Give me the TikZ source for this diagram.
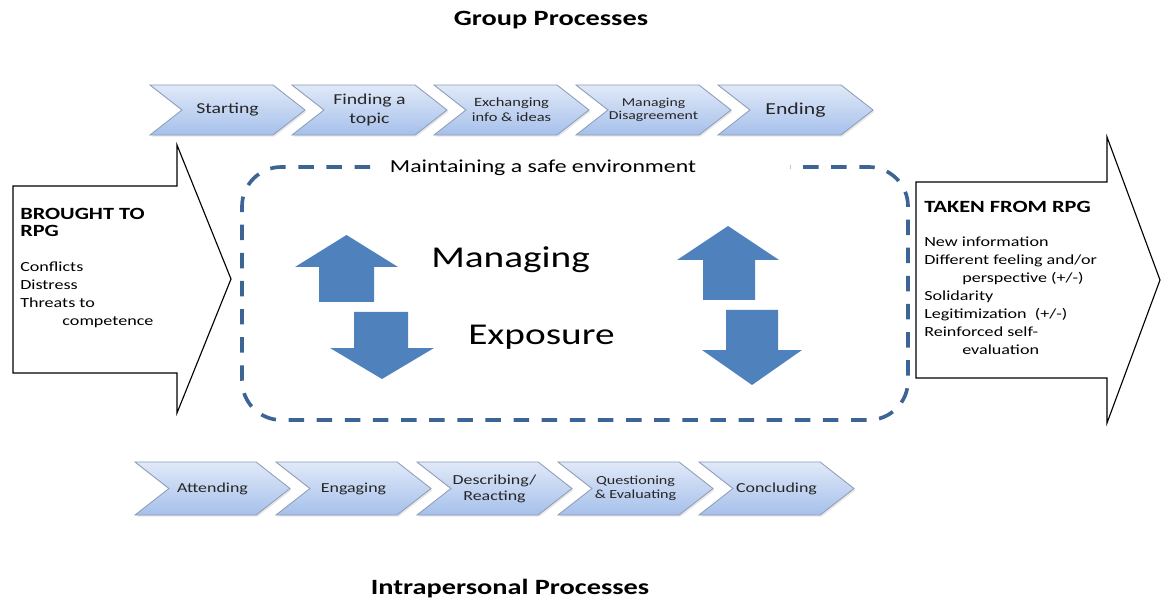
\documentclass[tikz,border=0pt]{standalone}
\usepackage{fontspec}
\setmainfont{Carlito}[FakeStretch=1.3]
\usepackage{xcolor}
\usepackage{tikz}
\usetikzlibrary{shapes.symbols, shadows, positioning}

\definecolor{chevtop}{HTML}{E0E9F8}
\definecolor{chevbot}{HTML}{A6C0EB}
\definecolor{chevline}{HTML}{8C9DB8}
\definecolor{arrowblue}{HTML}{4F81BD}
\definecolor{boxblue}{HTML}{3C6494}

\newcommand{\fsz}[2]{\fontsize{#1}{#2}\selectfont}

\begin{document}
\begin{tikzpicture}[
            x=0.025cm, y=-0.025cm,
            chev/.style={signal, signal from=west, signal to=east, signal pointer angle=76, minimum width=3.875cm, minimum height=1.25cm, inner sep=0pt, draw=chevline, line width=0.6pt, top color=chevtop, bottom color=chevbot, align=center, text=black!85, drop shadow={shadow xshift=1pt, shadow yshift=-1.2pt, opacity=0.2}},
            lowchev/.style={chev, minimum height=1.325cm},
            bigarrow/.style={draw=black, line width=0.8pt, fill=white},
            updown/.style={fill=arrowblue},
            safebox/.style={draw=boxblue, line width=2.6pt, dash pattern=on 11pt off 9pt, rounded corners=28pt},
            title/.style={font=\bfseries\fsz{15.5}{18}, inner sep=0pt},
            head/.style={font=\bfseries\fsz{12.2}{12}, align=left, anchor=north west, inner sep=0pt},
            items/.style={font=\fsz{9.9}{12.8}, align=left, anchor=north west, inner sep=0pt},
            big/.style={font=\fsz{21.5}{24}, anchor=base west, inner sep=0pt}
        ]
            \useasboundingbox (0,0) rectangle (1161,602);

            % Titles
            \node[title] (grp) at (551,20) {Group Processes};
            \node[title] (intra) at (510,589) {Intrapersonal Processes};

            % Group processes
            \node[chev, font=\fsz{10.8}{13}] (start) at (227.5,110) {Starting};
            \node[chev, font=\fsz{10.8}{13.5}] (topic) at (369.5,110) {Finding a\\topic};
            \node[chev, font=\fsz{9}{10.7}] (exch) at (511.5,110) {Exchanging\\info \& ideas};
            \node[chev, font=\fsz{8.6}{9.4}] (disagr) at (653.5,110) {Managing\\Disagreement};
            \node[chev, font=\fsz{11.9}{14}] (ending) at (795.5,110) {Ending};

            % Intrapersonal processes
            \node[lowchev, font=\fsz{9.8}{12}] (attend) at (212.5,488.5) {Attending};
            \node[lowchev, font=\fsz{9.8}{12}] (engage) at (353.5,488.5) {Engaging};
            \node[lowchev, font=\fsz{9.8}{11.4}] (descr) at (494.5,488.5) {Describing/\\Reacting};
            \node[lowchev, font=\fsz{8.8}{10}] (quest) at (635.5,488.5) {Questioning\\\& Evaluating};
            \node[lowchev, font=\fsz{9.8}{12}] (concl) at (776.5,488.5) {Concluding};

            % In and out arrows
            \draw[bigarrow] (13,186) -- (177,186) -- (177,145) -- (231,279) -- (177,413) -- (177,373) -- (13,373) -- cycle;
            \node[head] (brought) at (20,208) {BROUGHT TO\\RPG};
            \node[items] (bitems) at (20,262) {Conflicts\\Distress\\Threats to\\\hspace*{30pt}competence};

            \draw[bigarrow] (916,182) -- (1107,182) -- (1107,137) -- (1160,280) -- (1107,423) -- (1107,378) -- (916,378) -- cycle;
            \node[head] (taken) at (924,201) {TAKEN FROM RPG};
            \node[items] (titems) at (924,237) {New information\\Different feeling and/or\\\hspace*{27pt}perspective (+/-)\\Solidarity\\Legitimization~ (+/-)\\Reinforced self-\\\hspace*{27pt}evaluation};

            % Safe environment
            \draw[safebox] (370,167) -| (242,420) -| (908,167) -- (790,167);
            \node[font=\fsz{13}{15}, anchor=base, inner sep=0pt] (safe) at (543,173) {Maintaining a safe environment};

            \node[big] (managing) at (431,268) {Managing};
            \node[big] (exposure) at (468,345) {Exposure};

            % Up and down arrows
            \fill[updown] (319,302) -- (319,267) -- (295,267) -- (346.5,235) -- (398,267) -- (374,267) -- (374,302) -- cycle;
            \fill[updown] (354,312) -- (408,312) -- (408,348) -- (434,348) -- (382,379) -- (330,348) -- (354,348) -- cycle;
            \fill[updown] (703,300) -- (703,260) -- (677,260) -- (728,226) -- (779,260) -- (755,260) -- (755,300) -- cycle;
            \fill[updown] (726,310) -- (778,310) -- (778,350) -- (802,350) -- (752,385) -- (702,350) -- (726,350) -- cycle;

        \end{tikzpicture}
\end{document}
